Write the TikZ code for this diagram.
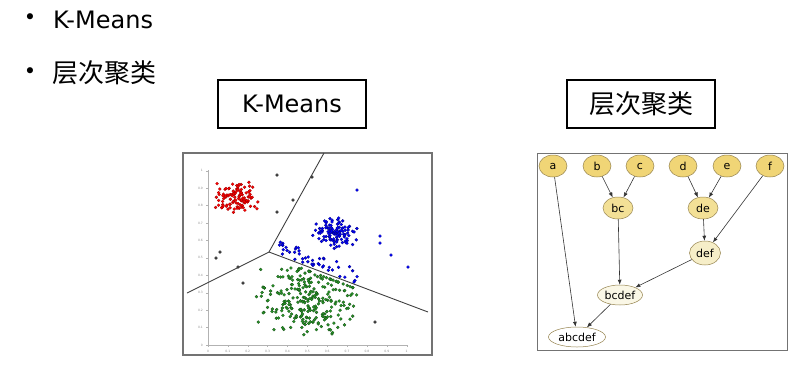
\documentclass[tikz,border=0pt]{standalone}
\usepackage{fontspec}
\setmainfont{DejaVu Sans}
\newfontfamily\cjk{Noto Sans CJK SC}
\usetikzlibrary{arrows.meta,shapes.geometric}
\definecolor{leafgold}{RGB}{240,213,118}
\definecolor{midgold}{RGB}{243,224,150}
\definecolor{paleg}{RGB}{246,238,200}
\definecolor{cream}{RGB}{250,247,230}
\definecolor{nodeedge}{RGB}{150,132,80}
\definecolor{dotgreen}{RGB}{40,150,40}
\begin{document}
\begin{tikzpicture}[x=1pt,y=-1pt,
  bigtext/.style={inner sep=0pt,anchor=west,font=\fontsize{24}{24}\selectfont},
  titlebox/.style={draw,line width=1.1pt,minimum width=148pt,minimum height=48pt,inner sep=0pt,font=\fontsize{24}{24}\selectfont},
  cl/.style={ellipse,draw=nodeedge,line width=0.5pt,inner sep=0pt,minimum height=22pt,font=\fontsize{11}{11}\selectfont},
  leaf/.style={cl,fill=leafgold,minimum width=28pt},
  merge/.style={-{Latex[length=5pt,width=4pt]},draw=black!80,line width=0.6pt},
  rdot/.style={fill=red,draw=red!60!black,line width=0.25pt},
  bdot/.style={fill=blue,draw=blue!50!black,line width=0.25pt},
  gdot/.style={fill=dotgreen,draw=dotgreen!50!black,line width=0.25pt},
  kdot/.style={fill=black!70,draw=black,line width=0.25pt},
  ticklab/.style={inner sep=0pt,text=black!45,font=\fontsize{3}{3}\selectfont}]
\useasboundingbox (0,0) rectangle (812,373);

% bullets
\node[inner sep=0pt,font=\fontsize{21}{21}\selectfont] (b1) at (30,19) {•};
\node[bigtext] (t1) at (53,19.5) {K-Means};
\node[inner sep=0pt,font=\fontsize{21}{21}\selectfont] (b2) at (30,73) {•};
\node[bigtext,font=\fontsize{26}{26}\selectfont] (t2) at (52,72.5) {\cjk 层次聚类};

\node[titlebox] (kbox) at (292,104) {K-Means};
\node[titlebox,font=\fontsize{26}{26}\selectfont] (hbox) at (641,104) {\cjk 层次聚类};

% scatter plot
\draw[black!55,line width=1.5pt] (183,153) rectangle (432,355);
\draw[black!30,line width=0.6pt] (208,170) -- (208,345) -- (407,345);
\foreach \lab [count=\k from 0] in {0,0.1,0.2,0.3,0.4,0.5,0.6,0.7,0.8,0.9,1}{
  \draw[black!30,line width=0.4pt] (208+19.87*\k,345) -- (208+19.87*\k,347);
  \node[ticklab] at (208+19.87*\k,351) {\lab};
  \draw[black!30,line width=0.4pt] (208,345-17.43*\k) -- (206,345-17.43*\k);
  \node[ticklab,anchor=east] at (203,345-17.43*\k) {\lab};
}

\pgfmathsetseed{11}
\foreach \i in {1,...,110}{
  \pgfmathsetmacro\px{236+12*(rand+rand)}
  \pgfmathsetmacro\py{197+9*(rand+rand)}
  \filldraw[rdot] (\px,\py) circle (1.5);
}
\foreach \i in {1,...,110}{
  \pgfmathsetmacro\px{335+12*(rand+rand)}
  \pgfmathsetmacro\py{234+9*(rand+rand)}
  \filldraw[bdot] (\px,\py) circle (1.5);
}
\foreach \i in {1,...,45}{
  \pgfmathsetmacro\px{278+80*rnd}
  \pgfmathsetmacro\py{252+0.377*(\px-269)-2-14*rnd}
  \filldraw[bdot] (\px,\py) circle (1.5);
}
\foreach \i in {1,...,260}{
  \pgfmathsetmacro\px{307+27*(rand+rand)}
  \pgfmathsetmacro\py{300+20*(rand+rand)}
  \pgfmathsetmacro\py{max(\py,256+max(0.377*(\px-269),0.5*(269-\px)))}
  \filldraw[gdot] (\px,\py) circle (1.5);
}
\foreach \px/\py in {357/190,380/236,380/243,391/255,408/267}
  \filldraw[bdot] (\px,\py) circle (1.5);
\foreach \px/\py in {277/175,312/177,293/200,277/212,220/252,216/258,238/267,243/283,375/322}
  \filldraw[kdot] (\px,\py) circle (1.5);

\coordinate (hub) at (269,252);
\coordinate (topend) at (324,153);
\coordinate (leftend) at (187,293);
\coordinate (rightend) at (428,312);
\draw[black!75,line width=0.9pt] (hub) -- (topend);
\draw[black!75,line width=0.9pt] (hub) -- (leftend);
\draw[black!75,line width=0.9pt] (hub) -- (rightend);

% dendrogram
\draw[black!55,line width=1pt] (537,153) rectangle (787,350);
\node[leaf] (a) at (553,166) {a};
\node[leaf] (b) at (597,166) {b};
\node[leaf] (c) at (640,166) {c};
\node[leaf] (d) at (683,166) {d};
\node[leaf] (e) at (727,166) {e};
\node[leaf] (f) at (770,166) {f};
\node[cl,fill=midgold,minimum width=30pt] (bc) at (618,208) {bc};
\node[cl,fill=midgold,minimum width=30pt] (de) at (703,208) {de};
\node[cl,fill=paleg,minimum width=31pt,minimum height=24pt] (def) at (705,253) {def};
\node[cl,fill=cream,minimum width=45pt,minimum height=20pt] (bcdef) at (620,295) {bcdef};
\node[cl,fill=white,minimum width=57pt,minimum height=20pt] (abcdef) at (577,337) {abcdef};

\draw[merge] (b) -- (bc);
\draw[merge] (c) -- (bc);
\draw[merge] (d) -- (de);
\draw[merge] (e) -- (de);
\draw[merge] (de) -- (def);
\draw[merge] (f) -- (def);
\draw[merge] (bc) -- (bcdef);
\draw[merge] (def) -- (bcdef);
\draw[merge] (a) -- (abcdef);
\draw[merge] (bcdef) -- (abcdef);
\end{tikzpicture}
\end{document}
